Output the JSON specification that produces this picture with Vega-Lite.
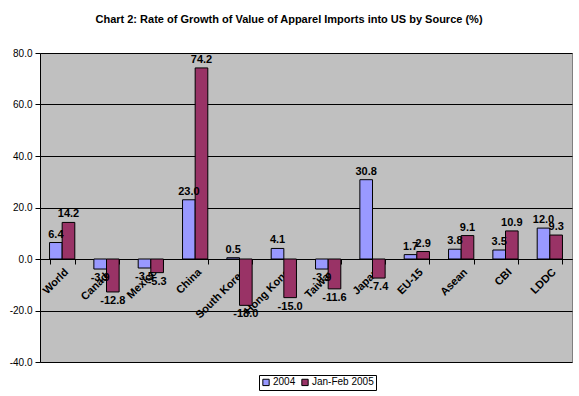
{
  "$schema": "https://vega.github.io/schema/vega-lite/v6.json",
  "width": 532,
  "height": 309,
  "autosize": {"type": "none"},
  "padding": {"left": 40, "top": 53, "right": 7, "bottom": 34},
  "background": "white",
  "title": {
    "text": "Chart 2: Rate of Growth of Value of Apparel Imports into US by Source (%)",
    "font": "Liberation Sans",
    "fontSize": 11,
    "fontWeight": "bold",
    "color": "black",
    "anchor": "middle",
    "offset": 23,
    "dx": -17
  },
  "config": {
    "font": "Liberation Sans",
    "locale": {"number": {"decimal": ".", "thousands": ",", "grouping": [3], "currency": ["$", ""], "minus": "-"}},
    "view": {"fill": "#C0C0C0", "stroke": "#808080", "strokeWidth": 1}
  },
  "data": {
    "values": [
      {"Source": "World", "Series": "2004", "Value": 6.4},
      {"Source": "World", "Series": "Jan-Feb 2005", "Value": 14.2},
      {"Source": "Canada", "Series": "2004", "Value": -3.9},
      {"Source": "Canada", "Series": "Jan-Feb 2005", "Value": -12.8},
      {"Source": "Mexico", "Series": "2004", "Value": -3.5},
      {"Source": "Mexico", "Series": "Jan-Feb 2005", "Value": -5.3},
      {"Source": "China", "Series": "2004", "Value": 23.0},
      {"Source": "China", "Series": "Jan-Feb 2005", "Value": 74.2},
      {"Source": "South Korea", "Series": "2004", "Value": 0.5},
      {"Source": "South Korea", "Series": "Jan-Feb 2005", "Value": -18.0},
      {"Source": "Hong Kong", "Series": "2004", "Value": 4.1},
      {"Source": "Hong Kong", "Series": "Jan-Feb 2005", "Value": -15.0},
      {"Source": "Taiwan", "Series": "2004", "Value": -3.9},
      {"Source": "Taiwan", "Series": "Jan-Feb 2005", "Value": -11.6},
      {"Source": "Japan", "Series": "2004", "Value": 30.8},
      {"Source": "Japan", "Series": "Jan-Feb 2005", "Value": -7.4},
      {"Source": "EU-15", "Series": "2004", "Value": 1.7},
      {"Source": "EU-15", "Series": "Jan-Feb 2005", "Value": 2.9},
      {"Source": "Asean", "Series": "2004", "Value": 3.8},
      {"Source": "Asean", "Series": "Jan-Feb 2005", "Value": 9.1},
      {"Source": "CBI", "Series": "2004", "Value": 3.5},
      {"Source": "CBI", "Series": "Jan-Feb 2005", "Value": 10.9},
      {"Source": "LDDC", "Series": "2004", "Value": 12.0},
      {"Source": "LDDC", "Series": "Jan-Feb 2005", "Value": 9.3}
    ]
  },
  "encoding": {
    "x": {
      "field": "Source",
      "type": "nominal",
      "sort": null,
      "scale": {"paddingInner": 0.43, "paddingOuter": 0.215},
      "axis": {
        "title": null,
        "offset": -103,
        "labelAngle": -45,
        "labelAlign": "right",
        "labelBaseline": "top",
        "labelFontSize": 11,
        "labelFontWeight": "bold",
        "labelColor": "black",
        "labelPadding": 2,
        "tickBand": "extent",
        "tickSize": 5,
        "tickColor": "black",
        "domainColor": "black",
        "grid": false
      }
    },
    "xOffset": {"field": "Series", "type": "nominal"},
    "y": {
      "field": "Value",
      "type": "quantitative",
      "scale": {"domain": [-40, 80], "nice": false},
      "axis": {
        "title": null,
        "values": [-40, -20, 0, 20, 40, 60, 80],
        "format": ".1f",
        "labelFontSize": 10,
        "labelColor": "black",
        "tickColor": "black",
        "tickSize": 5,
        "domainColor": "black",
        "gridColor": "black",
        "gridOpacity": 1,
        "labelPadding": 3
      }
    }
  },
  "layer": [
    {
      "mark": {"type": "bar", "stroke": "black", "strokeWidth": 1},
      "encoding": {
        "color": {
          "field": "Series",
          "type": "nominal",
          "scale": {"domain": ["2004", "Jan-Feb 2005"], "range": ["#9999FF", "#993366"]},
          "legend": {
            "title": null,
            "orient": "none",
            "legendX": 219,
            "legendY": 322,
            "direction": "horizontal",
            "strokeColor": "black",
            "fillColor": "white",
            "padding": 2,
            "symbolType": "square",
            "symbolSize": 40,
            "symbolStrokeColor": "black",
            "symbolStrokeWidth": 1,
            "labelFontSize": 10,
            "labelColor": "black",
            "columnPadding": 3,
            "labelOffset": 2
          }
        }
      }
    },
    {
      "transform": [{"filter": "datum.Value >= 0"}],
      "mark": {"type": "text", "baseline": "bottom", "dy": -3, "fontSize": 11, "fontWeight": "bold", "color": "black"},
      "encoding": {"text": {"field": "Value", "type": "quantitative", "format": ".1f"}}
    },
    {
      "transform": [{"filter": "datum.Value < 0"}],
      "mark": {"type": "text", "baseline": "top", "dy": 3, "fontSize": 11, "fontWeight": "bold", "color": "black"},
      "encoding": {"text": {"field": "Value", "type": "quantitative", "format": ".1f"}}
    }
  ]
}
